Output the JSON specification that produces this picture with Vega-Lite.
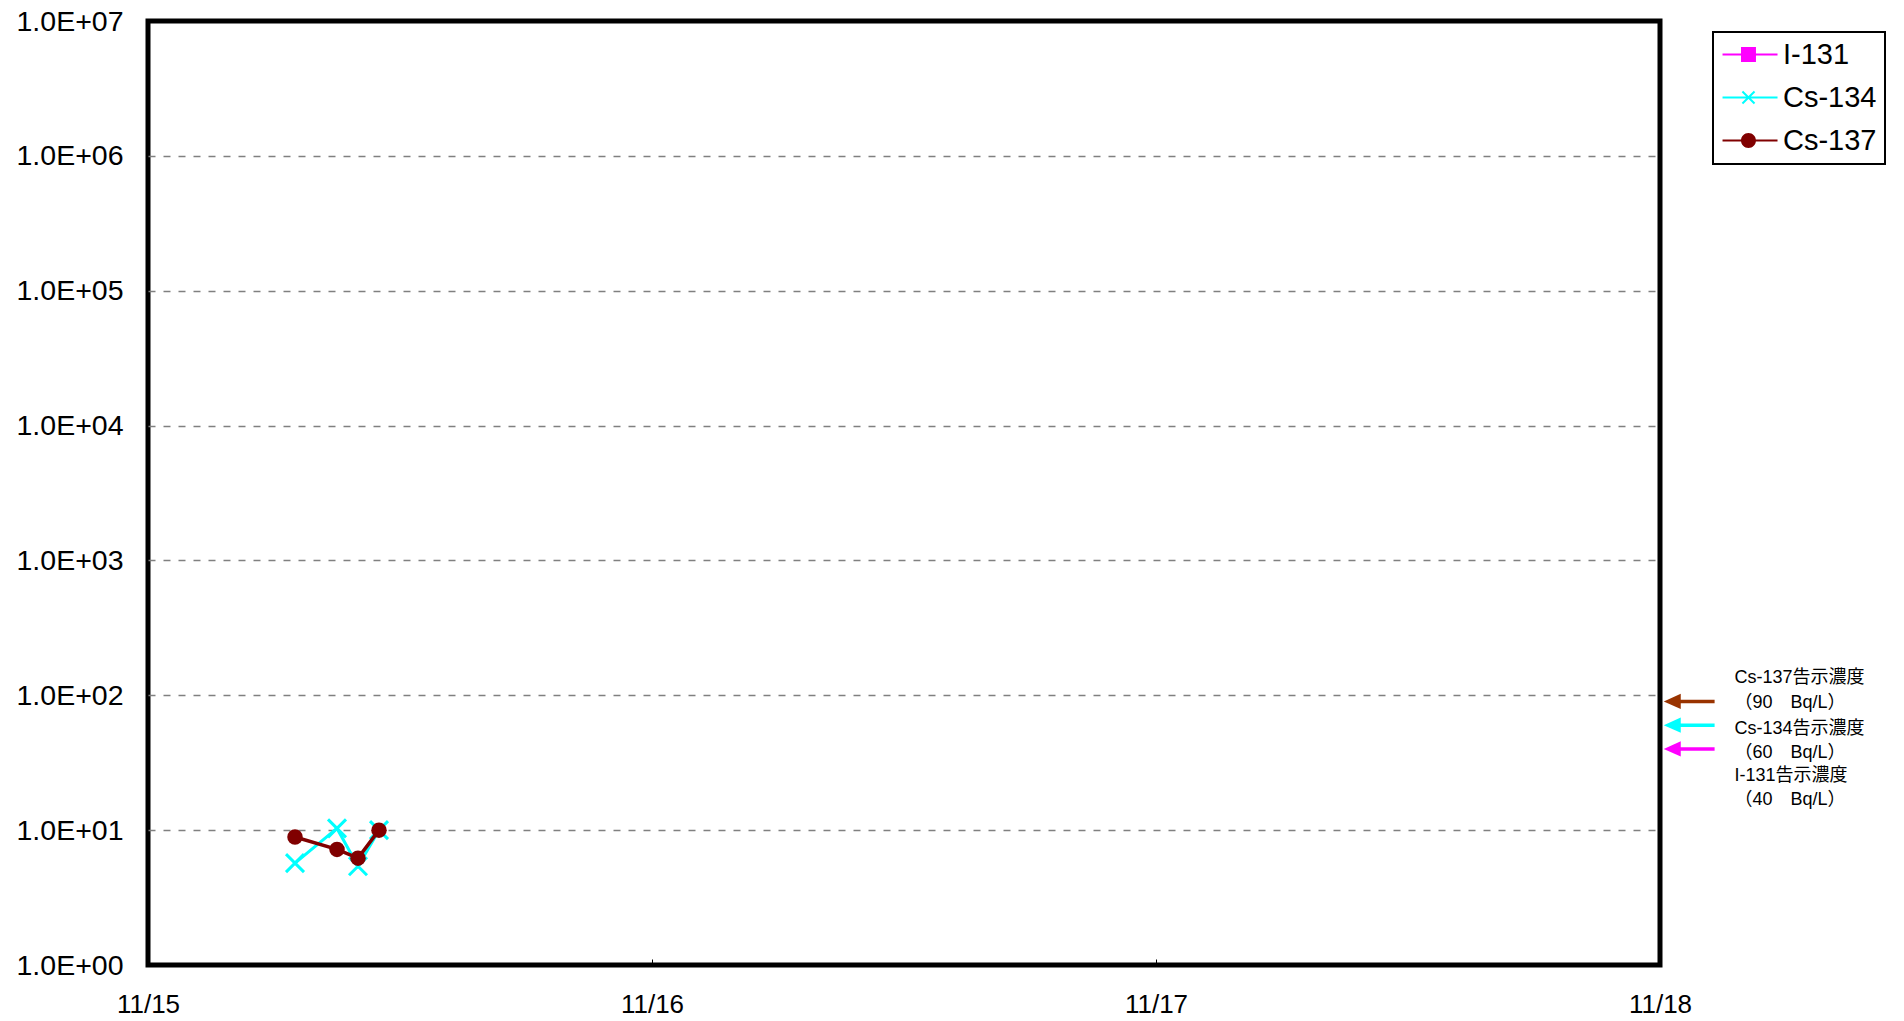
{
  "$schema": "https://vega.github.io/schema/vega-lite/v6.json",
  "width": 1512,
  "height": 944,
  "autosize": {"type": "none"},
  "padding": {"left": 148, "top": 21, "right": 244, "bottom": 56},
  "background": "white",
  "config": {
    "view": {"stroke": "black", "strokeWidth": 5},
    "font": "Liberation Sans"
  },
  "datasets": {
    "measurements": [
      {"time": "2011-11-15T07:00:00", "nuclide": "Cs-134", "value": 5.7},
      {"time": "2011-11-15T09:00:00", "nuclide": "Cs-134", "value": 10.3},
      {"time": "2011-11-15T10:00:00", "nuclide": "Cs-134", "value": 5.4},
      {"time": "2011-11-15T11:00:00", "nuclide": "Cs-134", "value": 10},
      {"time": "2011-11-15T07:00:00", "nuclide": "Cs-137", "value": 8.9},
      {"time": "2011-11-15T09:00:00", "nuclide": "Cs-137", "value": 7.2},
      {"time": "2011-11-15T10:00:00", "nuclide": "Cs-137", "value": 6.2},
      {"time": "2011-11-15T11:00:00", "nuclide": "Cs-137", "value": 10}
    ],
    "limits": [
      {"nuclide": "I-131", "limit": 40, "label": ["I-131告示濃度", "（40　Bq/L）"]},
      {"nuclide": "Cs-134", "limit": 60, "label": ["Cs-134告示濃度", "（60　Bq/L）"]},
      {"nuclide": "Cs-137", "limit": 90, "label": ["Cs-137告示濃度", "（90　Bq/L）"]}
    ]
  },
  "layer": [
    {
      "data": {"name": "measurements"},
      "transform": [{"filter": "datum.nuclide === 'Cs-134'"}],
      "mark": {"type": "line", "color": "#00FFFF", "strokeWidth": 3},
      "encoding": {
        "x": {
          "field": "time",
          "type": "temporal",
          "scale": {"domain": [{"year": 2011, "month": 11, "date": 15}, {"year": 2011, "month": 11, "date": 18}]},
          "axis": {
            "values": [
              {"year": 2011, "month": 11, "date": 15},
              {"year": 2011, "month": 11, "date": 16},
              {"year": 2011, "month": 11, "date": 17},
              {"year": 2011, "month": 11, "date": 18}
            ],
            "format": "%m/%d",
            "title": null,
            "grid": false,
            "domain": false,
            "ticks": true,
            "tickSize": -6,
            "tickColor": "black",
            "tickWidth": 1,
            "labelFont": "Liberation Sans",
            "labelFontSize": 26,
            "labelColor": "black",
            "labelPadding": 32,
            "labelFlush": false,
            "labelOverlap": false
          }
        },
        "y": {
          "field": "value",
          "type": "quantitative",
          "scale": {"type": "log", "domain": [1, 10000000], "nice": false},
          "axis": {
            "values": [1, 10, 100, 1000, 10000, 100000, 1000000, 10000000],
            "labelExpr": "'1.0E+' + (round(log(datum.value)/LN10) < 10 ? '0' : '') + round(log(datum.value)/LN10)",
            "title": null,
            "ticks": false,
            "domain": false,
            "grid": true,
            "gridColor": "#808080",
            "gridDash": [7, 8],
            "gridWidth": 1.5,
            "gridOpacity": {"condition": {"test": "datum.value <= 1 || datum.value >= 10000000", "value": 0}, "value": 1},
            "labelFont": "Liberation Sans",
            "labelFontSize": 28.5,
            "labelColor": "black",
            "labelPadding": 25,
            "labelFlush": false,
            "labelOverlap": false
          }
        }
      }
    },
    {
      "data": {"name": "measurements"},
      "transform": [{"filter": "datum.nuclide === 'Cs-134'"}],
      "mark": {"type": "point", "shape": "M-1,-1L1,1M-1,1L1,-1", "size": 324, "strokeWidth": 3, "color": "#00FFFF", "filled": false, "opacity": 1},
      "encoding": {
        "x": {"field": "time", "type": "temporal"},
        "y": {"field": "value", "type": "quantitative"}
      }
    },
    {
      "data": {"name": "measurements"},
      "transform": [{"filter": "datum.nuclide === 'Cs-137'"}],
      "mark": {"type": "line", "color": "#800000", "strokeWidth": 3.5},
      "encoding": {
        "x": {"field": "time", "type": "temporal"},
        "y": {"field": "value", "type": "quantitative"}
      }
    },
    {
      "data": {"name": "measurements"},
      "transform": [{"filter": "datum.nuclide === 'Cs-137'"}],
      "mark": {"type": "circle", "size": 240, "color": "#800000", "opacity": 1},
      "encoding": {
        "x": {"field": "time", "type": "temporal"},
        "y": {"field": "value", "type": "quantitative"}
      }
    },
    {
      "data": {"name": "limits"},
      "transform": [{"filter": "false"}],
      "mark": {"type": "point", "filled": true, "size": 484, "opacity": 1},
      "encoding": {
        "color": {
          "field": "nuclide",
          "type": "nominal",
          "scale": {"domain": ["I-131", "Cs-134", "Cs-137"], "range": ["#FF00FF", "#00FFFF", "#800000"]},
          "legend": {
            "title": null,
            "orient": "none",
            "legendX": 1565,
            "legendY": 11,
            "labelFont": "Liberation Sans",
            "labelFontSize": 29,
            "labelColor": "black",
            "labelOffset": 33,
            "rowPadding": 13,
            "padding": 8,
            "strokeColor": "black",
            "fillColor": "white",
            "symbolSize": 484,
            "symbolStrokeWidth": 0,
            "symbolOpacity": 1,
            "labelLimit": 0,
            "encode": {"legend": {"update": {"strokeWidth": {"value": 2}}}}
          }
        },
        "shape": {
          "field": "nuclide",
          "type": "nominal",
          "scale": {
            "domain": ["I-131", "Cs-134", "Cs-137"],
            "range": [
              "M-1.18,-0.09H3.82V0.09H-1.18ZM0.5,-0.68H1.86V0.68H0.5Z",
              "M-1.18,-0.09H3.82V0.09H-1.18ZM0.694,-0.614L1.794,0.486L1.666,0.614L0.566,-0.486ZM0.566,0.486L1.666,-0.614L1.794,-0.486L0.694,0.614Z",
              "M-1.18,-0.09H3.82V0.09H-1.18ZM1.86,0A0.68,0.68 0 1,1 0.5,0A0.68,0.68 0 1,1 1.86,0Z"
            ]
          }
        }
      }
    },
    {
      "data": {"name": "limits"},
      "mark": {"type": "rule", "strokeWidth": 3.5},
      "encoding": {
        "x": {"datum": {"year": 2011, "month": 11, "date": 18, "hours": 0, "minutes": 33}, "type": "temporal"},
        "x2": {"datum": {"year": 2011, "month": 11, "date": 18, "hours": 2, "minutes": 36}},
        "y": {"field": "limit", "type": "quantitative"},
        "stroke": {
          "field": "nuclide",
          "type": "nominal",
          "scale": {"domain": ["I-131", "Cs-134", "Cs-137"], "range": ["#FF00FF", "#00FFFF", "#993300"]},
          "legend": null
        }
      }
    },
    {
      "data": {"name": "limits"},
      "mark": {"type": "point", "shape": "M-1,0L1,-0.9L1,0.9Z", "size": 289, "filled": true, "opacity": 1, "strokeWidth": 0},
      "encoding": {
        "x": {"datum": {"year": 2011, "month": 11, "date": 18, "hours": 0, "minutes": 35}, "type": "temporal"},
        "y": {"field": "limit", "type": "quantitative"},
        "fill": {
          "field": "nuclide",
          "type": "nominal",
          "scale": {"domain": ["I-131", "Cs-134", "Cs-137"], "range": ["#FF00FF", "#00FFFF", "#993300"]},
          "legend": null
        }
      }
    },
    {
      "data": {"name": "limits"},
      "transform": [{"filter": "datum.nuclide === 'Cs-137'"}],
      "mark": {"type": "text", "align": "left", "baseline": "middle", "fontSize": 18, "font": "Liberation Sans, Noto Sans CJK JP", "lineHeight": 25, "dy": -23, "color": "black"},
      "encoding": {
        "x": {"datum": {"year": 2011, "month": 11, "date": 18, "hours": 3, "minutes": 33}, "type": "temporal"},
        "y": {"field": "limit", "type": "quantitative"},
        "text": {"field": "label"}
      }
    },
    {
      "data": {"name": "limits"},
      "transform": [{"filter": "datum.nuclide === 'Cs-134'"}],
      "mark": {"type": "text", "align": "left", "baseline": "middle", "fontSize": 18, "font": "Liberation Sans, Noto Sans CJK JP", "lineHeight": 24, "dy": 3.5, "color": "black"},
      "encoding": {
        "x": {"datum": {"year": 2011, "month": 11, "date": 18, "hours": 3, "minutes": 33}, "type": "temporal"},
        "y": {"field": "limit", "type": "quantitative"},
        "text": {"field": "label"}
      }
    },
    {
      "data": {"name": "limits"},
      "transform": [{"filter": "datum.nuclide === 'I-131'"}],
      "mark": {"type": "text", "align": "left", "baseline": "middle", "fontSize": 18, "font": "Liberation Sans, Noto Sans CJK JP", "lineHeight": 24, "dy": 27, "color": "black"},
      "encoding": {
        "x": {"datum": {"year": 2011, "month": 11, "date": 18, "hours": 3, "minutes": 33}, "type": "temporal"},
        "y": {"field": "limit", "type": "quantitative"},
        "text": {"field": "label"}
      }
    }
  ]
}
